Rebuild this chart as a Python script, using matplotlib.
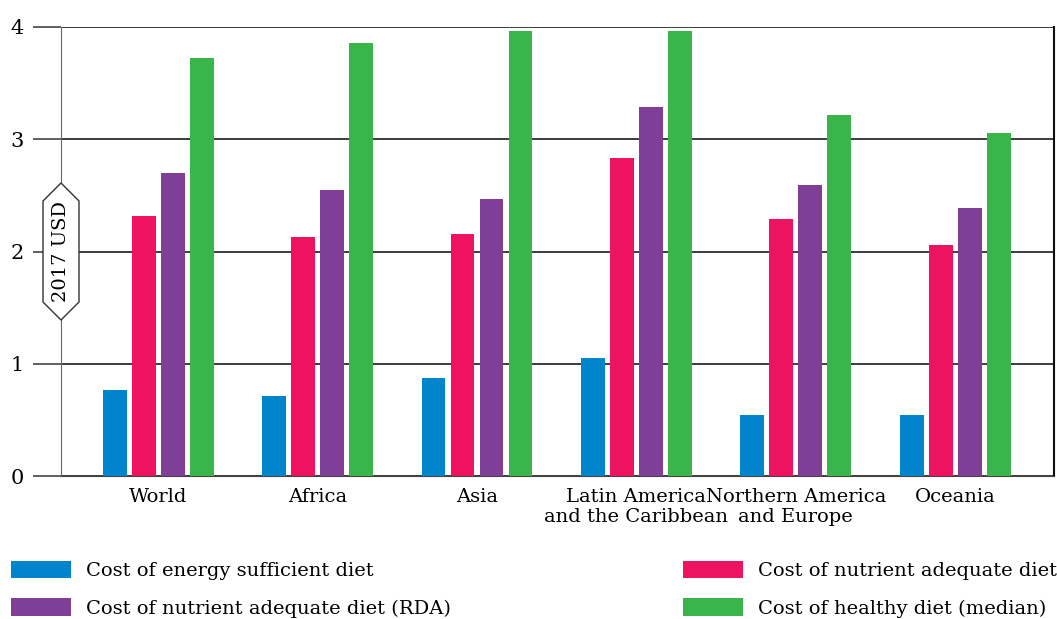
import numpy as np
import matplotlib.pyplot as plt
from matplotlib.patches import Polygon, Patch

plt.rcParams['font.family'] = ['DejaVu Serif']

regions = ['World', 'Africa', 'Asia', 'Latin America\nand the Caribbean',
           'Northern America\nand Europe', 'Oceania']
energy = [0.77, 0.71, 0.87, 1.05, 0.54, 0.54]
nutrient = [2.32, 2.13, 2.16, 2.83, 2.29, 2.06]
nutrient_rda = [2.70, 2.55, 2.47, 3.29, 2.59, 2.39]
healthy = [3.72, 3.86, 3.96, 3.96, 3.22, 3.06]

series = [
    ('Cost of energy sufficient diet', energy, '#0085CC'),
    ('Cost of nutrient adequate diet', nutrient, '#EE1361'),
    ('Cost of nutrient adequate diet (RDA)', nutrient_rda, '#7F3F98'),
    ('Cost of healthy diet (median)', healthy, '#3AB54A'),
]

W, H = 1057, 619
fig = plt.figure(figsize=(W / 100, H / 100), dpi=100)
ax = fig.add_axes([61 / W, 1 - 476 / H, (1054 - 61) / W, (476 - 27) / H])

x = np.arange(len(regions))
step = 0.182
for i, (name, vals, col) in enumerate(series):
    ax.bar(x + (i - 1.5) * step, vals, width=0.15, color=col, zorder=3)

ax.set_xlim(-0.61, 5.62)
ax.set_ylim(0, 4)
ax.set_yticks([0, 1, 2, 3, 4])
ax.yaxis.grid(True, color='#1a1a1a', linewidth=1.2, zorder=1)
ax.tick_params(axis='y', length=20, width=1.2, color='#444444', labelsize=15, pad=7)
ax.tick_params(axis='x', length=0, labelsize=14, pad=9)
ax.set_xticks(x)
ax.set_xticklabels(regions, linespacing=1.1)
ax.spines['top'].set_visible(False)
ax.spines['left'].set_color('#666666')
ax.spines['bottom'].set_color('#444444')
ax.spines['right'].set_color('#111111')
ax.spines['right'].set_linewidth(1.5)

# hexagon y-axis label
hx = [(61, 183), (79, 201), (79, 302), (61, 320), (43, 302), (43, 201)]
hex_pts = [(px / W, 1 - py / H) for px, py in hx]
fig.patches.append(Polygon(hex_pts, closed=True, transform=fig.transFigure,
                           facecolor='white', edgecolor='#333333', linewidth=1, zorder=5))
fig.text(61 / W, 1 - 251.5 / H, '2017 USD', rotation=90, ha='center', va='center',
         fontsize=14, zorder=6)

handles = [Patch(facecolor=c, label=n) for n, v, c in series]
leg_kw = dict(frameon=False, fontsize=14, handlelength=3.1, handleheight=1.0,
              handletextpad=0.75, labelspacing=0.92, borderpad=0, borderaxespad=0,
              loc='upper left')
fig.legend(handles=[handles[0], handles[2]], bbox_to_anchor=(11 / W, 1 - 561 / H), **leg_kw)
fig.legend(handles=[handles[1], handles[3]], bbox_to_anchor=(683 / W, 1 - 561 / H), **leg_kw)

fig.savefig('out.png', dpi=100)
